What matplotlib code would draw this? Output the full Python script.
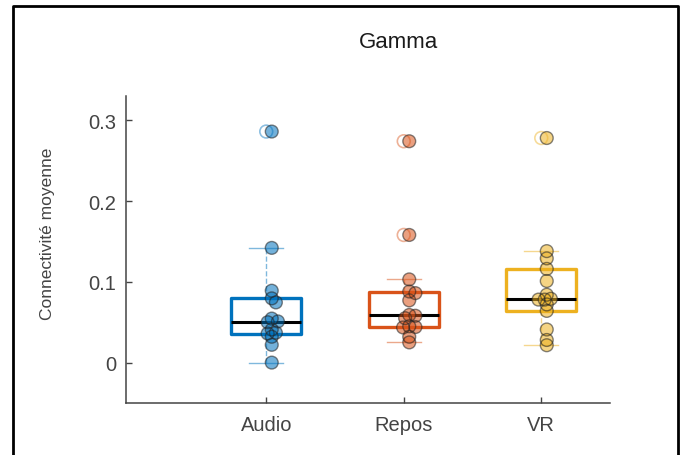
import matplotlib
matplotlib.use("Agg")
import matplotlib.pyplot as plt
from matplotlib.lines import Line2D
import numpy as np

plt.rcParams['font.family'] = ['Liberation Sans', 'DejaVu Sans']

# data
groups = ["Audio", "Repos", "VR"]
audio = [0.286, 0.142, 0.089, 0.0795, 0.0745, 0.0545, 0.051, 0.050, 0.041, 0.037, 0.036, 0.032, 0.022, 0.0]
repos = [0.274, 0.158, 0.103, 0.088, 0.086, 0.077, 0.059, 0.058, 0.055, 0.045, 0.044, 0.0435, 0.032, 0.025]
vr = [0.278, 0.138, 0.129, 0.116, 0.101, 0.084, 0.079, 0.078, 0.078, 0.072, 0.064, 0.041, 0.028, 0.0215]
yticks = [0, 0.1, 0.2, 0.3]

colors = ["#0072BD", "#D95319", "#EDB120"]
W, H = 688, 456


def box_stats(vals, whis=1.5):
    v = np.sort(np.asarray(vals))
    q1, med, q3 = np.percentile(v, [25, 50, 75], method="hazen")
    iqr = q3 - q1
    lo = v[v >= q1 - whis * iqr].min()
    hi = v[v <= q3 + whis * iqr].max()
    fl = v[(v < lo) | (v > hi)]
    return dict(q1=q1, med=med, q3=q3, whislo=lo, whishi=hi, fliers=fl)


def swarm(vals, xs_px, ys_px, diam, step=0.015):
    # simple beeswarm: push points sideways until they stop overlapping too much
    order = np.argsort(vals)[::-1]
    placed = []
    offs = np.zeros(len(vals))
    cands = [0.0]
    for k in range(1, 12):
        cands += [k * step, -k * step]
    for i in order:
        for c in cands:
            ok = True
            for j, oj in placed:
                dx = (c - oj) * xs_px
                dy = (vals[i] - vals[j]) * ys_px
                if dx * dx + dy * dy < (0.4 * diam) ** 2:
                    ok = False
                    break
            if ok:
                offs[i] = c
                break
        placed.append((i, offs[i]))
    return offs


fig = plt.figure(figsize=(W / 100, H / 100), dpi=100)
ax = fig.add_axes([126 / W, 1 - 404 / H, (610 - 126) / W, (404 - 97) / H])

xlim = (-0.02, 3.5)
ylim = (-0.05, 0.33)
ax.set_xlim(*xlim)
ax.set_ylim(*ylim)
xs_px = (610 - 126) / (xlim[1] - xlim[0])
ys_px = (404 - 97) / (ylim[1] - ylim[0])

half = 0.255
for k, (vals, col) in enumerate(zip([audio, repos, vr], colors)):
    pos = k + 1
    st = box_stats(vals)
    # whiskers and caps
    ax.plot([pos, pos], [st["q3"], st["whishi"]], color=col, alpha=0.5, lw=1, ls="--", zorder=1)
    ax.plot([pos, pos], [st["whislo"], st["q1"]], color=col, alpha=0.5, lw=1, ls="--", zorder=1)
    for w in (st["whislo"], st["whishi"]):
        ax.plot([pos - 0.125, pos + 0.125], [w, w], color=col, alpha=0.5, lw=1, zorder=1)
    # box
    ax.add_patch(plt.Rectangle((pos - half, st["q1"]), 2 * half, st["q3"] - st["q1"],
                               facecolor="white", edgecolor=col, lw=2.4, zorder=2,
                               joinstyle="round"))
    ax.plot([pos - half, pos + half], [st["med"], st["med"]], color="black", lw=2.2,
            zorder=3, solid_capstyle="butt")
    # outliers, hollow
    ax.scatter(np.full(len(st["fliers"]), pos), st["fliers"], s=85, facecolors="none",
               edgecolors=col, alpha=0.45, lw=1.2, zorder=3)
    # individual points
    v = np.asarray(vals)
    offs = swarm(v, xs_px, ys_px, 13)
    ax.scatter(pos + offs + 0.04, v, s=85, color=col, alpha=0.55, edgecolors="none", zorder=4)
    ax.scatter(pos + offs + 0.04, v, s=85, facecolors="none", edgecolors="#222222",
               alpha=0.55, lw=1.0, zorder=5)

axis_col = "#444444"
ax.set_xticks([1, 2, 3])
ax.set_xticklabels(groups)
ax.set_yticks(yticks)
ax.set_yticklabels(["0", "0.1", "0.2", "0.3"])
ax.tick_params(direction="in", length=4, width=1, colors=axis_col, labelsize=14.5)
ax.tick_params(axis="y", pad=7)
ax.tick_params(axis="x", pad=9)
for s in ("top", "right"):
    ax.spines[s].set_visible(False)
for s in ("left", "bottom"):
    ax.spines[s].set_color(axis_col)
    ax.spines[s].set_linewidth(1.1)

ax.set_ylabel("Connectivité moyenne", fontsize=12.5, color=axis_col)
ax.yaxis.set_label_coords((55 - 126) / (610 - 126), (404 - 234) / (404 - 97))

fig.text(398 / W, 1 - 43 / H, "Gamma", fontsize=16, color="#1a1a1a", ha="center", va="center")

# screenshot frame
fx0, fx1, fy = 12.7 / W, 678 / W, 1 - 7 / H
fig.add_artist(Line2D([fx0, fx0, fx1, fx1], [0, fy, fy, 0], transform=fig.transFigure,
                      color="black", lw=2.0))

fig.savefig("out.png", dpi=100)
